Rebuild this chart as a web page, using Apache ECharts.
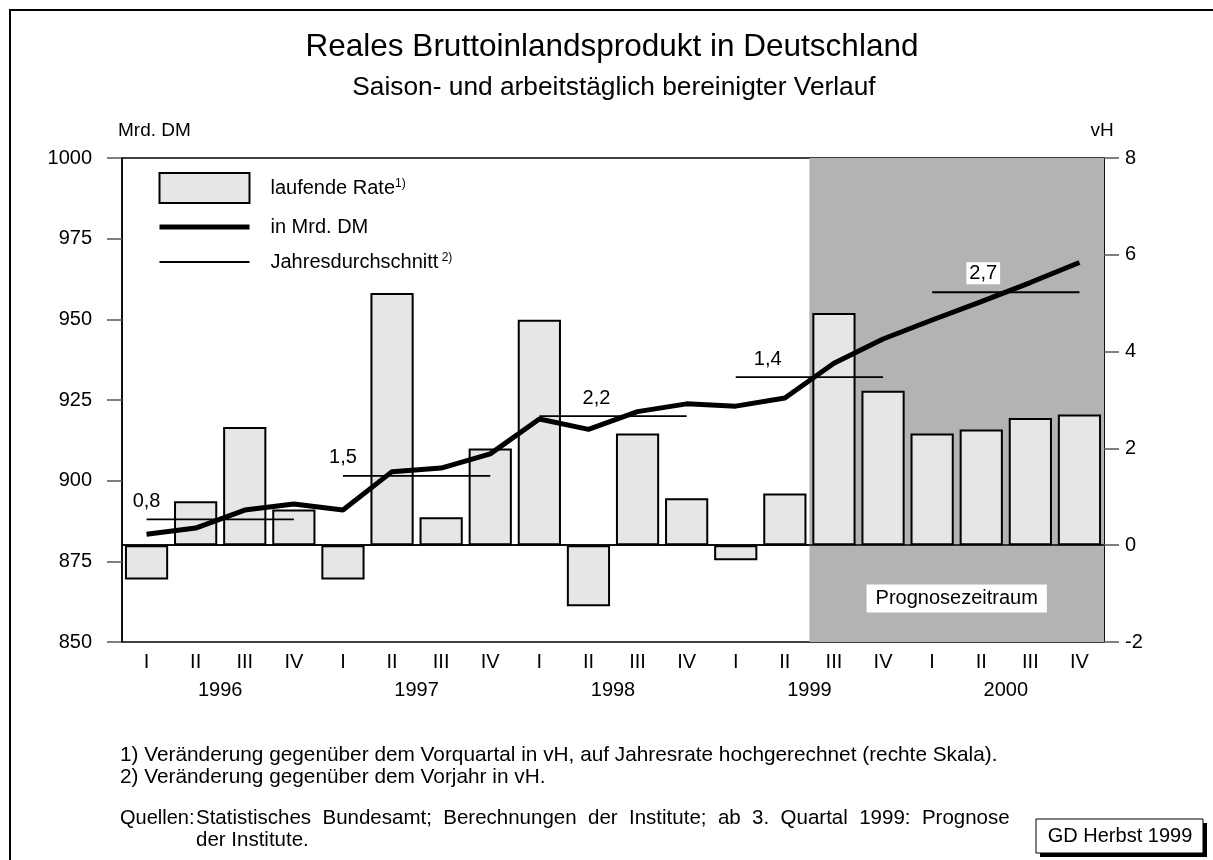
<!DOCTYPE html>
<html>
<head>
<meta charset="utf-8">
<script src="https://cdn.jsdelivr.net/npm/echarts@6/dist/echarts.min.js"></script>
<style>
  html, body { margin: 0; padding: 0; background: #fff; }
  #main { width: 1213px; height: 860px; }
</style>
</head>
<body>
<div id="main"></div>
<script>
// Quartale 1996 - 2000
var quarters = ['I','II','III','IV','I','II','III','IV','I','II','III','IV',
                'I','II','III','IV','I','II','III','IV'];
var years = ['1996','1997','1998','1999','2000'];
// laufende Rate in vH (rechte Skala)
var rate = [-0.71, 0.91, 2.44, 0.74, -0.71, 5.21, 0.58, 2.0, 4.66, -1.26,
            2.31, 0.97, -0.31, 1.07, 4.80, 3.19, 2.31, 2.39, 2.63, 2.70];
// BIP in Mrd. DM (linke Skala)
var level = [883.4, 885.3, 890.9, 892.8, 890.9, 902.8, 903.9, 908.3, 919.1, 915.9,
             921.4, 923.8, 923.1, 925.6, 936.4, 943.9, 949.8, 955.5, 961.4, 967.6];
// Jahresdurchschnitt (Niveau) und Veränderung gegenüber Vorjahr
var yearAvg = [888.0, 901.5, 920.0, 932.1, 958.4];
var yearAvgText = ['0,8', '1,5', '2,2', '1,4', '2,7'];
// Prognosezeitraum ab Quartal-Index 14 (III/1999)
var forecastFrom = 14;
var leftTicks = { min: 850, max: 1000, interval: 25 };
var rightTicks = { min: -2, max: 8, interval: 2 };

var FONT = '"Liberation Sans", Arial, sans-serif';
var myChart = echarts.init(document.getElementById('main'));

// Beschriftung der Jahreslinien: Quartal im Jahr und Versatz in px
var avgLabelAt = [0, 0, 1, 0, 1];
var avgLabelDx = [0, 0, 8, 32, 2];

var avgSeries = years.map(function (y, i) {
  var data = quarters.map(function () { return null; });
  for (var q = 0; q < 4; q++) {
    var v = { value: yearAvg[i] };
    if (q === avgLabelAt[i]) {
      v.label = {
        show: true,
        position: 'top',
        distance: 8,
        offset: [avgLabelDx[i], 0],
        formatter: yearAvgText[i],
        fontFamily: FONT,
        fontSize: 20,
        color: '#000',
        backgroundColor: i === 4 ? '#fff' : 'transparent',
        padding: i === 4 ? [1, 3] : 0
      };
    }
    data[i * 4 + q] = v;
  }
  return {
    name: 'Jahresdurchschnitt',
    type: 'line',
    xAxisIndex: 0,
    yAxisIndex: 0,
    symbol: 'circle',
    symbolSize: 0.01,
    showSymbol: true,
    showAllSymbol: true,
    z: 4,
    itemStyle: { color: '#000' },
    lineStyle: { color: '#000', width: 1.8 },
    data: data
  };
});

var option = {
  animation: false,
  textStyle: { fontFamily: FONT },
  grid: {
    left: 122, right: 109, top: 158, bottom: 218,
    show: true, borderColor: '#000', borderWidth: 1.5
  },
  legend: {
    data: [
      { name: 'laufende Rate', icon: 'rect' },
      { name: 'in Mrd. DM', itemStyle: { opacity: 0 }, lineStyle: { width: 5, color: '#000' } },
      { name: 'Jahresdurchschnitt', itemStyle: { opacity: 0 }, lineStyle: { width: 1.8, color: '#000' } }
    ],
    orient: 'vertical',
    left: 157, top: 172,
    padding: 0,
    itemWidth: 90, itemHeight: 30, itemGap: 11,
    selectedMode: false,
    formatter: function (name) {
      if (name === 'laufende Rate') return '{t|' + name + '}{s|1)}';
      if (name === 'Jahresdurchschnitt') return '{t|' + name + '}{s| 2)}';
      return '{t|' + name + '}';
    },
    textStyle: {
      rich: {
        t: { fontFamily: FONT, fontSize: 20, color: '#000', padding: [0, 0, 0, 16] },
        s: { fontFamily: FONT, fontSize: 12, color: '#000', verticalAlign: 'top', padding: [0, 0, 8, 0] }
      }
    }
  },
  xAxis: [{
    type: 'category',
    position: 'bottom',
    data: quarters,
    boundaryGap: true,
    axisLine: { lineStyle: { color: '#000', width: 1.5 } },
    axisTick: { interval: 0, length: 15, lineStyle: { color: '#555', width: 1.5 } },
    axisLabel: { interval: 0, margin: 10, fontSize: 20, color: '#000', fontFamily: FONT }
  }, {
    type: 'category',
    position: 'bottom',
    data: years,
    boundaryGap: true,
    axisLine: { show: false },
    axisTick: { interval: 0, length: 21, lineStyle: { color: '#555', width: 1.5 } },
    axisLabel: { interval: 0, margin: 38, fontSize: 20, color: '#000', fontFamily: FONT }
  }, {
    type: 'value',
    position: 'bottom',
    min: 0, max: quarters.length,
    show: false
  }],
  yAxis: [{
    type: 'value',
    position: 'left',
    min: leftTicks.min, max: leftTicks.max, interval: leftTicks.interval,
    name: 'Mrd. DM',
    nameLocation: 'end',
    nameGap: 18,
    nameTextStyle: { fontFamily: FONT, fontSize: 19, color: '#000', align: 'left', padding: [0, 0, 0, -4] },
    axisLine: { show: true, lineStyle: { color: '#000', width: 1.5 } },
    axisTick: { show: true, length: 15, lineStyle: { color: '#555', width: 1.5 } },
    axisLabel: { margin: 30, fontSize: 20, color: '#000', fontFamily: FONT,
                 formatter: function (v) { return String(v); } },
    splitLine: { show: false }
  }, {
    type: 'value',
    position: 'right',
    min: rightTicks.min, max: rightTicks.max, interval: rightTicks.interval,
    name: 'vH',
    nameLocation: 'end',
    nameGap: 18,
    nameTextStyle: { fontFamily: FONT, fontSize: 19, color: '#000', align: 'center', padding: [0, 0, 0, -4] },
    axisLine: { show: true, lineStyle: { color: '#000', width: 1.5 } },
    axisTick: { show: true, length: 15, lineStyle: { color: '#555', width: 1.5 } },
    axisLabel: { margin: 21, fontSize: 20, color: '#000', fontFamily: FONT,
                 formatter: function (v) { return String(v); } },
    splitLine: { show: false }
  }],
  series: [{
    // nur für den grauen Prognosebereich
    name: 'Prognose',
    type: 'line',
    xAxisIndex: 2,
    yAxisIndex: 0,
    data: [],
    z: 1,
    markArea: {
      silent: true,
      itemStyle: { color: '#b3b3b3' },
      label: {
        show: true,
        position: ['50%', '91%'],
        align: 'center',
        verticalAlign: 'middle',
        fontFamily: FONT,
        fontSize: 20,
        color: '#000',
        backgroundColor: '#fff',
        padding: [4, 9]
      },
      data: [[{ name: 'Prognosezeitraum', xAxis: forecastFrom }, { xAxis: quarters.length }]]
    }
  }, {
    name: 'laufende Rate',
    type: 'bar',
    xAxisIndex: 0,
    yAxisIndex: 1,
    barWidth: '88%',
    z: 3,
    itemStyle: { color: '#e6e6e6', borderColor: '#000', borderWidth: 2 },
    data: rate,
    markLine: {
      silent: true,
      symbol: 'none',
      label: { show: false },
      lineStyle: { color: '#000', width: 1.5, type: 'solid' },
      data: [{ yAxis: 0 }]
    }
  }, {
    name: 'in Mrd. DM',
    type: 'line',
    xAxisIndex: 0,
    yAxisIndex: 0,
    symbol: 'none',
    z: 5,
    itemStyle: { color: '#000' },
    lineStyle: { color: '#000', width: 5 },
    data: level
  }].concat(avgSeries),
  graphic: [
    { type: 'rect', shape: { x: 10, y: 10, width: 1230, height: 880 },
      style: { fill: 'none', stroke: '#000', lineWidth: 2 }, silent: true },
    { type: 'text', x: 612, y: 47,
      style: { text: 'Reales Bruttoinlandsprodukt in Deutschland', font: '31.5px ' + FONT,
               fill: '#000', textAlign: 'center', textVerticalAlign: 'middle' } },
    { type: 'text', x: 614, y: 88,
      style: { text: 'Saison- und arbeitstäglich bereinigter Verlauf', font: '26.3px ' + FONT,
               fill: '#000', textAlign: 'center', textVerticalAlign: 'middle' } },
    { type: 'text', x: 120, y: 755,
      style: { text: '1) Veränderung gegenüber dem Vorquartal in vH, auf Jahresrate hochgerechnet (rechte Skala).',
               font: '20.8px ' + FONT, fill: '#000', textVerticalAlign: 'middle' } },
    { type: 'text', x: 120, y: 777,
      style: { text: '2) Veränderung gegenüber dem Vorjahr in vH.',
               font: '20.8px ' + FONT, fill: '#000', textVerticalAlign: 'middle' } },
    { type: 'text', x: 120, y: 818,
      style: { text: 'Quellen:', font: '20px ' + FONT, fill: '#000', textVerticalAlign: 'middle' } },
    { type: 'text', x: 196, y: 818,
      style: { text: 'Statistisches  Bundesamt;  Berechnungen  der  Institute;  ab  3.  Quartal  1999:  Prognose',
               font: '20.5px ' + FONT, fill: '#000', textVerticalAlign: 'middle' } },
    { type: 'text', x: 196, y: 840,
      style: { text: 'der Institute.', font: '20.5px ' + FONT, fill: '#000', textVerticalAlign: 'middle' } },
    { type: 'rect', shape: { x: 1040, y: 823, width: 167, height: 34 }, style: { fill: '#000' } },
    { type: 'rect', shape: { x: 1036, y: 819, width: 167, height: 34 },
      style: { fill: '#fff', stroke: '#000', lineWidth: 1 } },
    { type: 'text', x: 1120, y: 836,
      style: { text: 'GD Herbst 1999', font: '20px ' + FONT, fill: '#000',
               textAlign: 'center', textVerticalAlign: 'middle' } }
  ]
};

myChart.setOption(option);
</script>
</body>
</html>
